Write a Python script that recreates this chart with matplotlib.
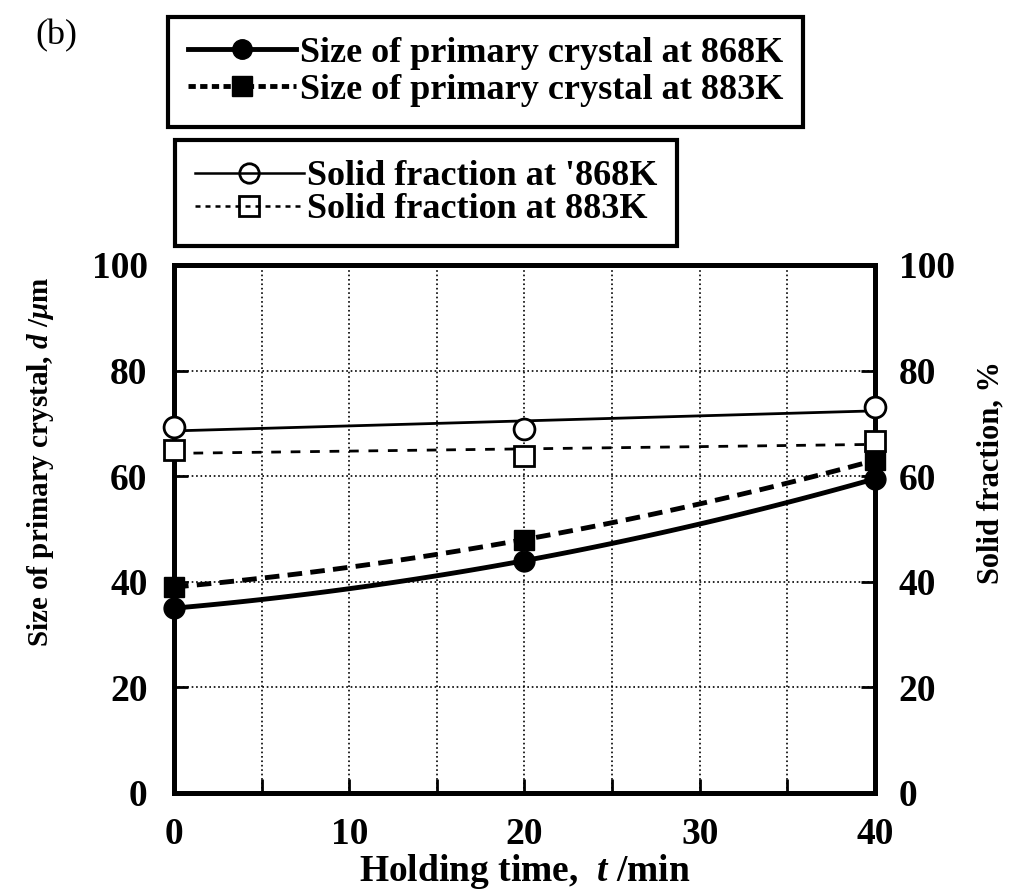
import numpy as np
import matplotlib
matplotlib.use('Agg')
import matplotlib.pyplot as plt
from matplotlib.lines import Line2D

# ---- data ----
time_min = [0, 20, 40]
size_868 = [35, 44, 59.5]
size_883 = [39, 48, 63]
solid_868 = [69.3, 69, 73.1]
solid_883 = [65, 63.8, 66.7]

plt.rcParams['font.family'] = ['Liberation Serif', 'DejaVu Serif']
plt.rcParams['font.weight'] = 'bold'
plt.rcParams['axes.labelweight'] = 'bold'
plt.rcParams['mathtext.fontset'] = 'custom'
plt.rcParams['mathtext.it'] = 'Liberation Serif:italic:bold'
plt.rcParams['mathtext.rm'] = 'Liberation Serif:bold'

fig = plt.figure(figsize=(10.2, 8.92), dpi=100)
ax = fig.add_axes([0.1706, 0.111, 0.6872, 0.592])
ax2 = ax.twinx()

# smooth trend curves through the measured points
t_fine = np.linspace(0, 40, 100)
c868 = np.polyfit(time_min, size_868, 2)
c883 = np.polyfit(time_min, size_883, 2)
l868 = np.polyfit(time_min, solid_868, 1)
l883 = np.polyfit(time_min, solid_883, 1)

# size of primary crystal (left axis)
ax.plot(t_fine, np.polyval(c868, t_fine), color='black', lw=3.5, solid_capstyle='round', zorder=4)
ax.plot(t_fine, np.polyval(c883, t_fine), color='black', lw=3.5, ls=(0, (3, 1.7)), zorder=4)
ax.plot(time_min, size_868, 'o', color='black', ms=15, zorder=5, clip_on=False)
ax.plot(time_min, size_883, 's', color='black', ms=15, zorder=5, clip_on=False)

# solid fraction (right axis)
ax2.plot(t_fine, np.polyval(l868, t_fine), color='black', lw=2, zorder=4)
ax2.plot(t_fine, np.polyval(l883, t_fine), color='black', lw=2, ls=(0, (3.5, 3.5)), zorder=4)
ax2.plot(time_min, solid_868, 'o', mfc='white', mec='black', mew=2, ms=15, zorder=5, clip_on=False)
ax2.plot(time_min, solid_883, 's', mfc='white', mec='black', mew=2, ms=15, zorder=5, clip_on=False)

ax.set_xlim(0, 40)
ax.set_ylim(0, 100)
ax2.set_ylim(0, 100)
ax.set_xticks([0, 10, 20, 30, 40])
ax.set_xticks([5, 15, 25, 35], minor=True)
ax.set_yticks([0, 20, 40, 60, 80, 100])
ax2.set_yticks([0, 20, 40, 60, 80, 100])

ax.grid(True, which='both', ls=':', lw=1.2, color='black')
ax.tick_params(axis='x', which='both', direction='in', length=10, width=2, pad=17, labelsize=27)
ax.tick_params(axis='y', direction='in', length=10, width=2, pad=19, labelsize=27)
ax2.tick_params(axis='y', direction='in', length=10, width=2, pad=17, labelsize=27)
for a in (ax, ax2):
    for s in a.spines.values():
        s.set_linewidth(3.5)

ax.set_xlabel('Holding time,  $t$ /min', fontsize=27, labelpad=0)
ax.set_ylabel(r'Size of primary crystal, $d$ /$\mu$m', fontsize=21)
ax.yaxis.set_label_coords(-0.168, 0.627)
fig.text(0.971, 0.47, 'Solid fraction, %', fontsize=22, fontweight='bold',
         rotation=90, ha='center', va='center')

fig.text(0.035, 0.978, '(b)', fontsize=26, fontweight='normal', va='top', ha='left')

# legends
h1 = [Line2D([], [], color='black', lw=3.5, marker='o', ms=14),
      Line2D([], [], color='black', lw=3.5, ls=(0, (1.5, 0.9)), marker='s', ms=14)]
h2 = [Line2D([], [], color='black', lw=1.8, marker='o', mfc='none', mec='black', mew=2, ms=14),
      Line2D([], [], color='black', lw=1.8, ls=(0, (2, 2)), marker='s', mfc='none', mec='black', mew=2, ms=14)]
leg1 = fig.legend(h1, ['Size of primary crystal at 868K', 'Size of primary crystal at 883K'],
                  loc='upper left', bbox_to_anchor=(0.165, 0.981), fontsize=26,
                  handlelength=3.0, handletextpad=0.1, labelspacing=0.1, borderaxespad=0,
                  fancybox=False, framealpha=1, edgecolor='black', borderpad=0.55)
leg1.get_frame().set_linewidth(3)
leg2 = fig.legend(h2, ["Solid fraction at '868K", 'Solid fraction at 883K'],
                  loc='upper left', bbox_to_anchor=(0.172, 0.843), fontsize=26,
                  handlelength=3.0, handletextpad=0.1, labelspacing=0.0, borderaxespad=0,
                  fancybox=False, framealpha=1, edgecolor='black', borderpad=0.55)
leg2.get_frame().set_linewidth(3)

fig.savefig('out.png', dpi=100)
